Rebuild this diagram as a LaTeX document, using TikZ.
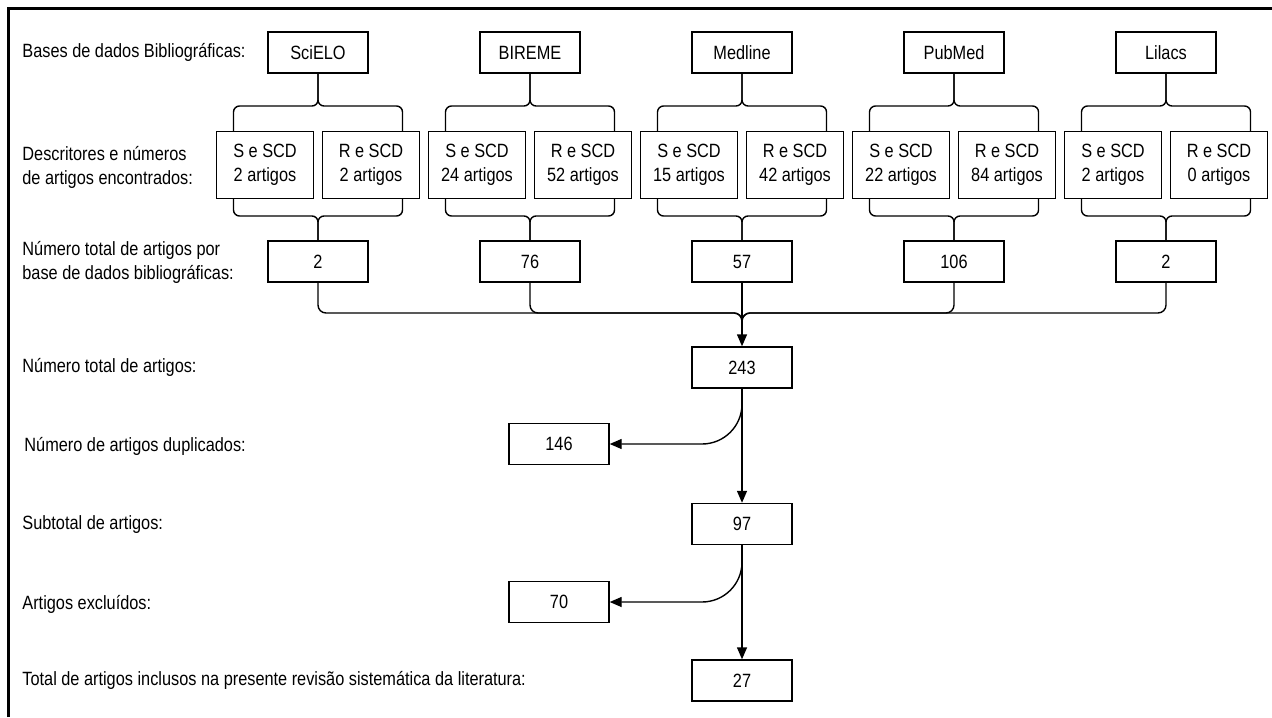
\documentclass[tikz,border=0pt]{standalone}
\usepackage{fontspec}
\setmainfont{Liberation Sans}[FakeStretch=0.85]
\usetikzlibrary{arrows.meta}

\tikzset{
    txt/.style={font=\fontsize{9.6}{12}\selectfont},
    box/.style={txt, draw, line width=0.7pt, minimum width=50pt, minimum height=20.5pt, inner sep=0pt},
    subbox/.style={box, minimum width=48.5pt, minimum height=33.5pt, align=center},
    lbl/.style={txt, anchor=west, align=left, inner sep=0pt},
    link/.style={line width=0.7pt, rounded corners=3pt},
    arr/.style={line width=0.7pt, -{Triangle[length=6pt,width=5pt]}}
}

\begin{document}
\begin{tikzpicture}[x=0.5pt,y=-0.5pt]
    \useasboundingbox (0,0) rectangle (1272,717);
    % Frame
    \draw[line width=1.5pt] (8,717) -- (8,9) -- (1272,9);
    % Row labels
    \node[lbl] (lb1) at (22,52.5) {Bases de dados Bibliográficas:};
    \node[lbl] (lb2) at (22,167) {Descritores e números\\de artigos encontrados:};
    \node[lbl] (lb3) at (22,262) {Número total de artigos por\\base de dados bibliográficas:};
    \node[lbl] (lb4) at (22,367.5) {Número total de artigos:};
    \node[lbl] (lb5) at (24,446) {Número de artigos duplicados:};
    \node[lbl] (lb6) at (22,525) {Subtotal de artigos:};
    \node[lbl] (lb7) at (22,604) {Artigos excluídos:};
    \node[lbl] (lb8) at (22,680.5) {Total de artigos inclusos na presente revisão sistemática da literatura:};
    % Databases with their descriptors
    \foreach \name/\cx/\sv/\rv/\tot [count=\i] in {SciELO/318/2/2/2, BIREME/530/24/52/76,
        Medline/742/15/42/57, PubMed/954/22/84/106, Lilacs/1166/2/0/2} {
        \node[box] (db\i) at (\cx,52.5) {\name};
        \node[subbox] (s\i) at (\cx-53,165) {S e SCD\\\sv{} artigos};
        \node[subbox] (r\i) at (\cx+53,165) {R e SCD\\\rv{} artigos};
        \node[box] (n\i) at (\cx,261.5) {\tot};
        \coordinate (bt\i) at (\cx,106);
        \coordinate (bb\i) at (\cx,216);
        % braces
        \draw[link] (s\i.north) ++(-31.5,0) |- (bt\i) -- (db\i.south);
        \draw[link] (r\i.north) ++(31.5,0) |- (bt\i) -- (db\i.south);
        \draw[link] (s\i.south) ++(-31.5,0) |- (bb\i) -- (n\i.north);
        \draw[link] (r\i.south) ++(31.5,0) |- (bb\i) -- (n\i.north);
    }
    % Totals
    \node[box] (tot) at (742,367.5) {243};
    \node[box] (dup) at (559,444) {146};
    \node[box] (sub) at (742,524) {97};
    \node[box] (exc) at (559,602) {70};
    \node[box] (inc) at (742,680.5) {27};
    % Join all databases
    \coordinate (jn) at (742,313);
    \foreach \i in {1,2,4,5}
        \draw[link, rounded corners=4pt] (n\i.south) |- (jn) -- ++(0,12);
    \draw[arr] (n3.south) -- (tot.north);
    % Duplicates and exclusions
    \coordinate (d1) at (742,404);
    \coordinate (e1) at (742,562);
    \draw[arr, rounded corners=20pt] (d1) |- (dup.east);
    \draw[arr, rounded corners=20pt] (e1) |- (exc.east);
    \draw[arr] (tot.south) -- (sub.north);
    \draw[arr] (sub.south) -- (inc.north);
\end{tikzpicture}
\end{document}
